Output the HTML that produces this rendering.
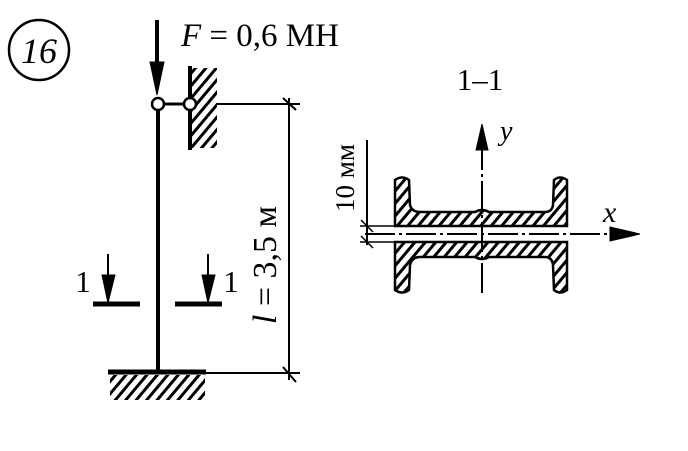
<!DOCTYPE html>
<html><head><style>body{margin:0;background:#fff}svg{display:block}</style></head><body>
<svg width="688" height="451" viewBox="0 0 688 451" xmlns="http://www.w3.org/2000/svg">
<defs>
<pattern id="h" width="8" height="8" patternUnits="userSpaceOnUse" patternTransform="rotate(40)">
<rect width="8" height="8" fill="#fff"/><rect width="3" height="8" fill="#000"/></pattern>
</defs>
<g font-family="Liberation Serif, serif" fill="#000">
<circle cx="39" cy="50" r="30" fill="none" stroke="#000" stroke-width="2.5"/>
<text x="39" y="63" font-size="36" font-style="italic" text-anchor="middle">16</text>
<text x="181" y="46" font-size="33"><tspan font-style="italic">F</tspan> = 0,6 MH</text>
<text x="480" y="90" font-size="31" text-anchor="middle">1–1</text>
</g>
<g stroke="#000" fill="none">
<line x1="157" y1="20" x2="157" y2="70" stroke-width="4"/>
<polygon points="150,62 164,62 157,95" fill="#000"/>
<line x1="158" y1="108" x2="158" y2="372" stroke-width="4"/>
<rect x="192" y="68" width="25" height="80" fill="url(#h)" stroke="none"/>
<line x1="190" y1="66" x2="190" y2="150" stroke-width="4"/>
<line x1="164" y1="104" x2="184" y2="104" stroke-width="3"/>
<circle cx="158" cy="104" r="6" fill="#fff" stroke-width="2.5"/>
<circle cx="190" cy="104" r="6" fill="#fff" stroke-width="2.5"/>
<line x1="217" y1="104" x2="300" y2="104" stroke-width="2"/>
<line x1="205" y1="373" x2="300" y2="373" stroke-width="2"/>
<line x1="289" y1="98" x2="289" y2="380" stroke-width="2"/>
<line x1="283" y1="98" x2="296" y2="110" stroke-width="2"/>
<line x1="283" y1="367" x2="296" y2="382" stroke-width="2"/>
<rect x="110" y="375" width="95" height="25" fill="url(#h)" stroke="none"/>
<line x1="108" y1="372" x2="206" y2="372" stroke-width="5"/>
<line x1="93" y1="304" x2="140" y2="304" stroke-width="5"/>
<line x1="175" y1="304" x2="222" y2="304" stroke-width="5"/>
<line x1="108" y1="254" x2="108" y2="280" stroke-width="2"/>
<polygon points="102,275 115,275 108,303" fill="#000"/>
<line x1="208" y1="254" x2="208" y2="280" stroke-width="2"/>
<polygon points="202,275 215,275 208,303" fill="#000"/>
</g>
<g font-family="Liberation Serif, serif" font-size="31" fill="#000">
<text x="83" y="292" text-anchor="middle">1</text>
<text x="231" y="292" text-anchor="middle">1</text>
<text transform="translate(276,265) rotate(-90)" text-anchor="middle" font-size="34"><tspan font-style="italic">l</tspan> = 3,5 м</text>
<text transform="translate(354,178) rotate(-90)" text-anchor="middle" font-size="27">10 мм</text>
<text x="500" y="140" font-size="28" font-style="italic">y</text>
<text x="603" y="222" font-size="30" font-style="italic">x</text>
</g>
<g stroke="#000" stroke-width="2.5">
<path d="M395,180 Q402,175 409,180 L410,205 Q412,212 420,212 L475,212 Q482,208 489,212 L545,212 Q552,212 553,205 L554,180 Q560,175 567,180 L567,226 L395,226 Z" fill="url(#h)"/>
<path d="M395,290 Q402,295 409,290 L410,265 Q412,257 420,257 L475,257 Q482,261 489,257 L545,257 Q552,257 553,265 L554,290 Q560,295 567,290 L567,242 L395,242 Z" fill="url(#h)"/>
</g>
<g stroke="#000" fill="none">
<line x1="482" y1="140" x2="482" y2="296" stroke-width="2" stroke-dasharray="30,4,3,4"/>
<polygon points="476,150 488,150 482,124" fill="#000"/>
<line x1="365" y1="234" x2="615" y2="234" stroke-width="2" stroke-dasharray="30,4,3,4"/>
<polygon points="610,227 610,241 640,234" fill="#000"/>
<line x1="367" y1="140" x2="367" y2="245" stroke-width="2"/>
<line x1="360" y1="226" x2="395" y2="226" stroke-width="1.5"/>
<line x1="360" y1="242" x2="395" y2="242" stroke-width="1.5"/>
<line x1="361" y1="220" x2="373" y2="232" stroke-width="1.5"/>
<line x1="361" y1="236" x2="373" y2="248" stroke-width="1.5"/>
</g>
</svg>
</body></html>
